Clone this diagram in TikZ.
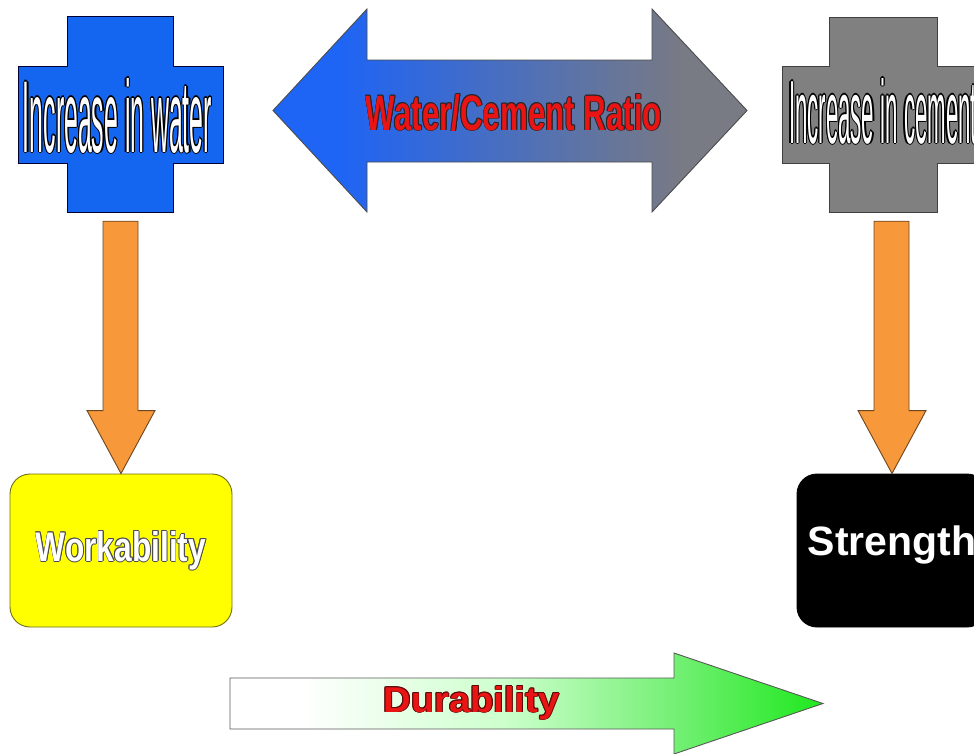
\documentclass[tikz,border=0pt]{standalone}
\usepackage{fontspec}
\setmainfont{Liberation Sans}
\usepackage{graphicx}
\usetikzlibrary{calc}
\definecolor{crossblue}{RGB}{20,102,240}
\definecolor{crossgray}{RGB}{128,128,128}
\definecolor{ratioblue}{RGB}{30,100,245}
\definecolor{ratiogray}{RGB}{120,122,132}
\definecolor{orangefill}{RGB}{247,152,58}
\definecolor{orangeline}{RGB}{110,70,30}
\definecolor{yellowfill}{RGB}{255,255,0}
\definecolor{yellowline}{RGB}{110,110,20}
\definecolor{textred}{RGB}{235,20,20}
\definecolor{darkred}{RGB}{90,10,10}
\definecolor{greenA}{RGB}{205,255,205}
\definecolor{greenB}{RGB}{120,240,120}
\definecolor{greenC}{RGB}{30,232,30}
\pgfdeclarehorizontalshading{ratioshade}{100bp}{color(0bp)=(ratioblue); color(32bp)=(ratioblue); color(68bp)=(ratiogray); color(100bp)=(ratiogray)}
\pgfdeclarehorizontalshading{durshade}{100bp}{color(0bp)=(white); color(31bp)=(white); color(48bp)=(greenA); color(62bp)=(greenB); color(75bp)=(greenC); color(100bp)=(greenC)}

\newbox\olbox
\newdimen\olr
\newcommand\outlined[3]{%
 \setbox\olbox=\hbox{#3}\olr=#2\relax
 \leavevmode\rlap{\color{#1}%
 \rlap{\kern\olr\copy\olbox}%
 \rlap{\kern-\olr\copy\olbox}%
 \rlap{\raise\olr\copy\olbox}%
 \rlap{\lower\olr\copy\olbox}%
 \rlap{\kern0.707\olr\raise0.707\olr\copy\olbox}%
 \rlap{\kern-0.707\olr\raise0.707\olr\copy\olbox}%
 \rlap{\kern0.707\olr\lower0.707\olr\copy\olbox}%
 \rlap{\kern-0.707\olr\lower0.707\olr\copy\olbox}}%
 \copy\olbox}

\newcommand\blockarrowdown[2]{%
 \draw[orangearrow] let \p1=(#1), \p2=(#2) in
 (\x1-17.5pt,\y1) -- (\x1+17.5pt,\y1) -- (\x1+17.5pt,\y2+63pt) -- (\x2+34pt,\y2+63pt)
 -- (\x2,\y2) -- (\x2-34pt,\y2+63pt) -- (\x1-17.5pt,\y2+63pt) -- cycle;}

\tikzset{
 bluecross/.style={fill=crossblue, draw=black!80!blue, line width=0.9pt},
 graycross/.style={fill=crossgray, draw=black!75, line width=0.9pt},
 orangearrow/.style={fill=orangefill, draw=orangeline, line width=0.9pt, line join=miter},
 wordart/.style={inner sep=0pt, text=white},
 anchorbox/.style={inner sep=0pt, draw=none, fill=none},
 workbox/.style={rounded corners=20pt, fill=yellowfill, draw=yellowline, line width=0.9pt,
   minimum width=222pt, minimum height=153pt, inner sep=0pt, text=white},
 strengthbox/.style={rounded corners=20pt, fill=black, draw=black, line width=0.9pt,
   minimum width=190pt, minimum height=153pt, inner sep=0pt, text=white,
   font=\bfseries\fontsize{41pt}{41pt}\selectfont, text height=29.5pt, text depth=20.5pt},
 ratioarrow/.style={shade, shading=ratioshade, draw=black!70, line width=0.9pt},
 durarrow/.style={shade, shading=durshade, draw=black!65, line width=0.9pt},
}

\begin{document}
\begin{tikzpicture}[x=1pt,y=-1pt]
\useasboundingbox (0,0) rectangle (974,753);
\clip (0,0) rectangle (974,753);

% crosses
\draw[bluecross] (67,16) -- (173,16) -- (173,66) -- (223,66) -- (223,163) -- (173,163) -- (173,212)
  -- (67,212) -- (67,163) -- (18,163) -- (18,66) -- (67,66) -- cycle;
\node[anchorbox, minimum width=205pt, minimum height=196pt] (wcross) at (120.5,114) {};
\draw[graycross] (829,17) -- (937,17) -- (937,66) -- (990,66) -- (990,163) -- (937,163) -- (937,212)
  -- (829,212) -- (829,163) -- (782,163) -- (782,66) -- (829,66) -- cycle;
\node[anchorbox, minimum width=208pt, minimum height=195pt] (ccross) at (883,114.5) {};

\node[wordart, anchor=base] (wtext) at (117.5,152)
  {\outlined{black}{1.1pt}{\resizebox{189pt}{74pt}{Increase in water}}};
\node[wordart, anchor=base] (ctext) at (883,143)
  {\outlined{black}{1.1pt}{\resizebox{188pt}{65pt}{Increase in cement}}};

% water/cement double arrow
\path[ratioarrow] (273,110.5) -- (367,9) -- (367,60) -- (652,60) -- (652,9) -- (747,110.5)
  -- (652,212) -- (652,162) -- (367,162) -- (367,212) -- cycle;
\node[wordart, text=textred, anchor=base] (ratio) at (514,130)
  {\outlined{black!85}{0.9pt}{\resizebox{296pt}{36pt}{\bfseries Water/Cement Ratio}}};

% boxes
\node[workbox] (work) at (121,550.5)
  {\outlined{black!70}{0.9pt}{\resizebox{170pt}{30pt}{\bfseries Workability}}};
\node[strengthbox] (strength) at (892,550.5) {Strength};

% orange arrows
\coordinate (wstart) at ($(wcross.south)+(0,9)$);
\coordinate (cstart) at ($(ccross.south)+(8.5,9)$);
\blockarrowdown{wstart}{work.north}
\blockarrowdown{cstart}{strength.north}

% durability arrow
\path[durarrow] (230,678) -- (674,678) -- (674,653) -- (823,703.5) -- (674,754) -- (674,729)
  -- (230,729) -- cycle;
\node[wordart, text=textred, anchor=base] (dur) at (471.5,712)
  {\outlined{darkred}{0.8pt}{\resizebox{176pt}{26pt}{\bfseries Durability}}};
\end{tikzpicture}
\end{document}
